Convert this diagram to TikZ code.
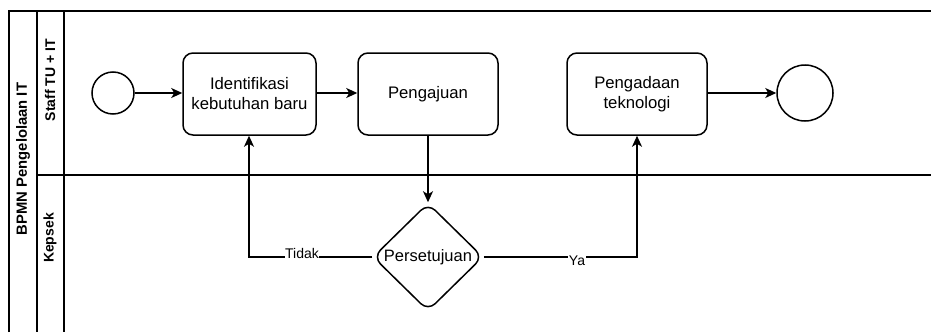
\documentclass[tikz,border=0pt]{standalone}
\usepackage{fontspec}
\setmainfont{Liberation Sans}
\usetikzlibrary{shapes.geometric,arrows.meta}
\begin{document}
\begin{tikzpicture}[x=1pt,y=-1pt,
  ln/.style={line width=1.5pt,draw=black},
  arr/.style={ln,-{Stealth[length=11pt,width=10pt,inset=3pt]}},
  task/.style={ln,rounded corners=10pt,minimum width=133pt,minimum height=82pt,inner sep=2pt,align=center,font=\fontsize{16.7}{20}\selectfont},
  ev/.style={ln,circle,inner sep=0pt},
  gw/.style={ln,diamond,minimum width=110pt,minimum height=108pt,inner sep=0pt,rounded corners=10pt},
  gwtext/.style={font=\fontsize{16.5}{20}\selectfont,inner sep=0pt},
  lane/.style={rotate=90,font=\bfseries\fontsize{14}{16}\selectfont,inner sep=0pt},
  elab/.style={fill=white,inner sep=0.5pt,font=\fontsize{14}{16}\selectfont}
]
\useasboundingbox (0,0) rectangle (931,332);
% pool and lanes
\coordinate (ptl) at (9,11);
\coordinate (ptr) at (931,11);
\coordinate (pbl) at (9,332);
\coordinate (l1t) at (37,11);
\coordinate (l1b) at (37,332);
\coordinate (l2t) at (64,11);
\coordinate (l2b) at (64,332);
\coordinate (dvl) at (37,175);
\coordinate (dvr) at (931,175);
\draw[ln] (pbl) -- (ptl) -- (ptr);
\draw[ln] (l1t) -- (l1b);
\draw[ln] (l2t) -- (l2b);
\draw[ln] (dvl) -- (dvr);
\node[lane,font=\bfseries\fontsize{14.8}{17}\selectfont] (pool) at (23,159) {BPMN Pengelolaan IT};
\node[lane] (lanea) at (50,80) {Staff TU + IT};
\node[lane] (laneb) at (50,238) {Kepsek};
% nodes
\node[ev,minimum size=42pt] (start) at (113,93) {};
\node[task] (ident) at (249.5,94) {Identifikasi\\kebutuhan baru};
\node[task,minimum width=140pt] (aju) at (428,94) {Pengajuan};
\node[task,minimum width=140pt] (ada) at (637,94) {Pengadaan\\teknologi};
\node[ev,minimum size=56pt] (end) at (805,93) {};
\node[gw] (gate) at (428,257) {};
\node[gwtext] (gatet) at (gate.center) {Persetujuan};
% connectors
\coordinate (tk) at (249,257);
\coordinate (ya) at (637,257);
\draw[arr] (start) -- (ident.west |- start);
\draw[arr] (ident.east |- start) -- (aju.west |- start);
\draw[arr] (aju) -- (gate.north);
\draw[arr] (gate.west) -- (tk) -- (ident.south -| tk);
\draw[arr] (gate.east) -- (ya) -- (ada.south);
\draw[arr] (ada.east |- end) -- (end.west);
\node[elab] (tidak) at (302,253) {Tidak};
\node[elab] (yalab) at (577,261) {Ya};
\end{tikzpicture}
\end{document}
